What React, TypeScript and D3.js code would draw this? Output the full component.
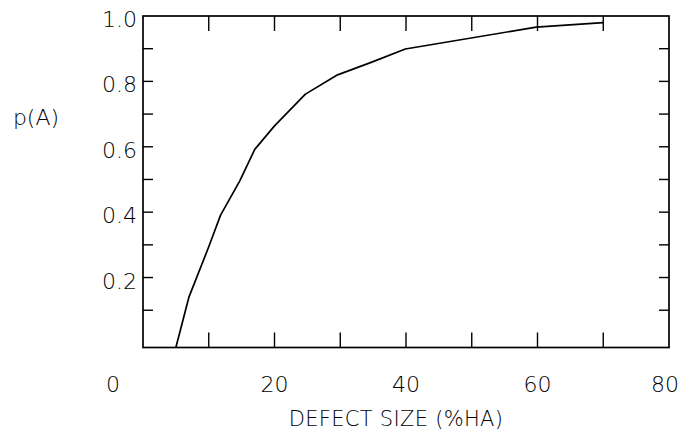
import React from "react";
import * as d3 from "d3";

const defectSize = [5.0, 7.0, 10.0, 11.8, 14.7, 17.0, 20.0, 24.7, 29.6, 34.8, 39.9, 59.8, 70.0];
const pA = [-0.014, 0.141, 0.294, 0.391, 0.495, 0.592, 0.664, 0.761, 0.82, 0.859, 0.899, 0.966, 0.98];
const xTickLabels = [0, 20, 40, 60, 80];
const yTickLabels = [0.2, 0.4, 0.6, 0.8, 1.0];
const xMinorTicks = [10, 20, 30, 40, 50, 60, 70];
const yMinorTicks = [0.1, 0.2, 0.3, 0.4, 0.5, 0.6, 0.7, 0.8, 0.9];

const W = 683;
const H = 433;
const left = 143;
const right = 669;
const top = 16;
const bottom = 347.5;
const font = "'DejaVu Sans', sans-serif";

export default function App() {
  const x = d3.scaleLinear().domain([0, 80]).range([left, right]);
  const y = d3.scaleLinear().domain([-0.014, 1.0]).range([bottom, top]);
  const line = d3
    .line<number>()
    .x((_, i) => x(defectSize[i]))
    .y((d) => y(d));

  return (
    <svg
      width={W}
      height={H}
      style={{ position: "absolute", left: 0, top: 0, background: "#fff" }}
    >
      <rect x={0} y={0} width={W} height={H} fill="#fff" />
      <defs>
        <clipPath id="plot">
          <rect x={left} y={top} width={right - left} height={bottom - top} />
        </clipPath>
      </defs>
      {xMinorTicks.map((t) => (
        <g key={"xt" + t} stroke="#000" strokeWidth={1.4}>
          <line x1={x(t)} x2={x(t)} y1={bottom} y2={bottom - 15} />
          <line x1={x(t)} x2={x(t)} y1={top} y2={top + 15} />
        </g>
      ))}
      {yMinorTicks.map((t) => (
        <g key={"yt" + t} stroke="#000" strokeWidth={1.4}>
          <line x1={left} x2={left + 10} y1={y(t)} y2={y(t)} />
          <line x1={right} x2={right - 10} y1={y(t)} y2={y(t)} />
        </g>
      ))}
      <rect
        x={left}
        y={top}
        width={right - left}
        height={bottom - top}
        fill="none"
        stroke="#000"
        strokeWidth={1.7}
      />
      <path
        d={line(pA) || ""}
        fill="none"
        stroke="#000"
        strokeWidth={1.7}
        strokeLinejoin="round"
        clipPath="url(#plot)"
      />
      {yTickLabels.map((t) => (
        <text
          key={"yl" + t}
          x={137}
          y={y(t) + 11}
          textAnchor="end"
          fontFamily={font}
          fontSize={22}
          fontWeight={300}
          fill="#000"
        >
          {t.toFixed(1)}
        </text>
      ))}
      {xTickLabels.map((t) => (
        <text
          key={"xl" + t}
          x={x(t) + (t === 0 ? -30 : t === 80 ? -4 : 0)}
          y={392}
          textAnchor="middle"
          fontFamily={font}
          fontSize={22}
          fontWeight={300}
          fill="#000"
        >
          {t}
        </text>
      ))}
      <text
        x={36}
        y={125}
        textAnchor="middle"
        fontFamily={font}
        fontSize={22}
        fontWeight={300}
        fill="#000"
      >
        p(A)
      </text>
      <text
        x={396}
        y={426}
        textAnchor="middle"
        fontFamily={font}
        fontSize={21}
        fontWeight={300}
        fill="#000"
        letterSpacing={0.3}
      >
        DEFECT SIZE (%HA)
      </text>
    </svg>
  );
}
